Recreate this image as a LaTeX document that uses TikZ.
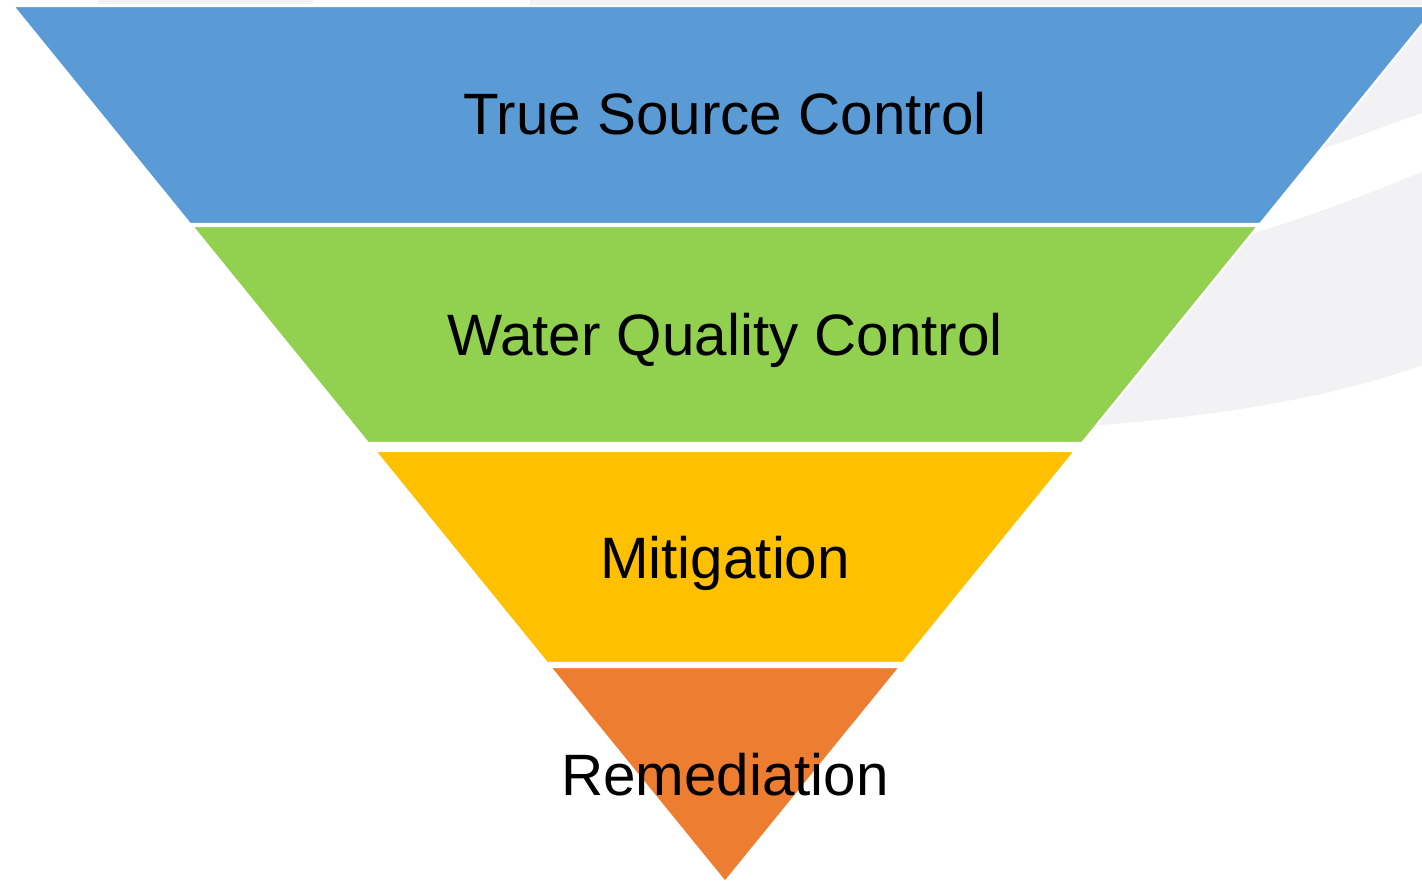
\documentclass[tikz,border=0pt]{standalone}
\usepackage{fontspec}
\setmainfont{Liberation Sans}
\definecolor{cBlue}{HTML}{5B9BD5}
\definecolor{cGreen}{HTML}{92D050}
\definecolor{cYellow}{HTML}{FFC000}
\definecolor{cOrange}{HTML}{ED7D31}
\definecolor{cSwoosh}{HTML}{F2F2F4}
\tikzstyle{bandS}=[draw=white, line width=0.6pt, line join=miter]
\tikzstyle{swooshS}=[fill=cSwoosh, draw=none]
\tikzstyle{lblS}=[anchor=base, inner sep=0pt, font=\fontsize{16.6}{20}\selectfont, text=black]

\begin{document}
\begin{tikzpicture}[x=0.01cm, y=-0.01cm]
    \useasboundingbox (0,0) rectangle (1422,885);
    \clip (0,0) rectangle (1422,885);
    \fill[white] (0,0) rectangle (1422,885);
    \path[swooshS] (98,0) rectangle (313,4);
    \path[swooshS] (530,0) -- (1422,0) -- (1422,113) .. controls (1380,128) .. (1300,157)
        -- (1100,100) -- (1100,10) -- (530,10) -- cycle;
    \path[swooshS] (1422,172) .. controls (1345,203) and (1295,222) .. (1230,240)
        -- (1000,260) -- (1000,430) -- (1100,425) .. controls (1230,415) and (1340,395) .. (1422,365) -- cycle;
    \fill[cBlue, bandS] (13,6) -- (1437,6) -- (1260,224) -- (190,224) -- cycle;
    \fill[cGreen, bandS] (192,226) -- (1258,226) -- (1082,443) -- (368,443) -- cycle;
    \fill[cYellow, bandS] (375,451) -- (1075,451) -- (903,663) -- (547,663) -- cycle;
    \fill[cOrange, bandS] (550,667) -- (900,667) -- (725,882) -- cycle;
    \draw (725,135) node[lblS] (tsc) {True Source Control};
    \draw (725,355) node[lblS] (wqc) {Water Quality Control};
    \draw (725,578) node[lblS] (mit) {Mitigation};
    \draw (725,795) node[lblS] (rem) {Remediation};
\end{tikzpicture}
\end{document}
